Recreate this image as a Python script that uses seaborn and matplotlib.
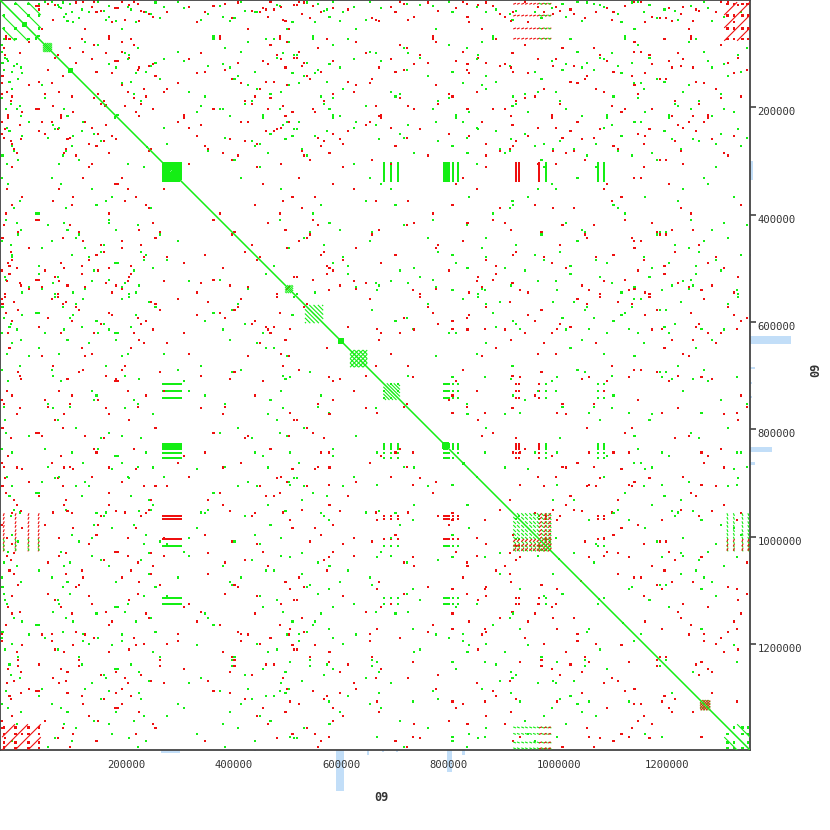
import numpy as np
import pandas as pd
import matplotlib
matplotlib.use("Agg")
import matplotlib.pyplot as plt
import seaborn as sns
from matplotlib.collections import LineCollection

# Self dot plot of sequence "09" (positions in kb, drawn in bp)
GENOME_KB = 1397
tick_vals = [200000, 400000, 600000, 800000, 1000000, 1200000]

# tandem / low complexity blocks on the diagonal: start, end, period (0 = solid), strand
diag_start = [41, 80, 127, 194, 272, 531, 568, 630, 652, 714, 823, 861, 887, 1040, 1081, 1114, 1159, 1304]
diag_end = [50, 97, 136, 199, 276, 546, 602, 641, 684, 745, 836, 866, 891, 1044, 1085, 1118, 1163, 1323]
diag_period = [0, 3.5, 0, 0, 0, 4, 8, 0, 8, 6.5, 0, 0, 0, 0, 0, 0, 0, 5]
diag_strand = ["+", "+", "+", "-", "+", "+", "+", "+", "x", "+", "+", "+", "+", "+", "-", "+", "+", "-"]

# family A: tandem array at ~300 kb and its copies
famA_kb = [302, 305, 308, 311, 314, 317, 320, 323, 326, 329, 332, 335,
           714, 727, 740, 825, 828, 831, 834, 842, 851, 959, 965, 1002, 1015, 1112, 1124]
famA_len = [3] * 27
famA_str = "++++++++++++" + "+++++++++-" + "--++" + "+"

# family B: inverted repeats at both ends of the sequence
famB_kb = [4, 28, 52, 1349, 1373]
famB_len = [24, 24, 24, 24, 24]
famB_str = "+++--"

# family C: tandem block at ~960-1025 kb with short copies near the ends
famC_kb = [956, 963, 971, 978, 986, 993, 1000, 1008, 1015, 1022, 1004, 1013, 1021,
           6, 28, 52, 71, 1354, 1366, 1382, 1393]
famC_len = [5] * 13 + [2] * 8
famC_str = "++++++++++---" + "----" + "++++"

# dispersed small repeats: copy positions (kb) and strands
rep1_kb = [11, 67, 71, 203, 397, 409, 521, 583, 806, 918, 1163, 1287]
rep1_str = "+--+-++-+--+"
rep2_kb = [19, 815, 188, 193, 262, 455, 468, 602, 961, 1043, 1256, 1301]
rep2_str = "-++-+-+--+-+"
rep3_kb = [8, 101, 107, 239, 515, 547, 552, 781, 889, 1117, 1209, 1374]
rep3_str = "+-+-+--+-++-"
rep4_kb = [33, 1240, 146, 298, 431, 436, 577, 692, 1008, 1089, 1223, 1229]
rep4_str = "-+--+-++-+-+"
rep5_kb = [2, 83, 175, 182, 249, 503, 619, 744, 835, 977, 1188, 1342]
rep5_str = "++-+--+-+-+-"
rep6_kb = [26, 1030, 122, 276, 281, 387, 562, 931, 949, 1069, 1150, 1268]
rep6_str = "-+-+--++-+-+"
rep7_kb = [14, 620, 113, 213, 218, 342, 489, 709, 848, 1027, 1130, 1246, 1318]
rep7_str = "+-+--+-+-+--+"
rep8_kb = [53, 77, 157, 227, 461, 534, 538, 663, 812, 897, 1181, 1282]
rep8_str = "-++-+-+--+-+"
rep9_kb = [6, 88, 130, 256, 419, 592, 751, 757, 869, 1047, 1105, 1390]
rep9_str = "+-+--+-+-++-"
rep10_kb = [22, 1110, 165, 268, 311, 478, 484, 638, 905, 1013, 1199, 1333]
rep10_str = "-+-++-+--+-+"
rep11_kb = [36, 760, 98, 197, 232, 373, 527, 681, 699, 954, 1139, 1262]
rep11_str = "+--+-+-+-+-+"
rep12_kb = [4, 905, 117, 141, 289, 443, 565, 571, 797, 1093, 1176, 1355]
rep12_str = "-+-+-++-+--+"
rep13_kb = [17, 72, 152, 244, 494, 509, 609, 647, 923, 1062, 1237, 1296]
rep13_str = "+-++--+-+-+-"
rep14_kb = [41, 1200, 136, 208, 253, 366, 544, 586, 873, 983, 1157, 1367]
rep14_str = "-+-+-+--++-+"
rep15_kb = [540, 612, 701, 768, 842, 903, 968, 1037, 1096, 1171, 1233, 1306, 1372]
rep15_str = "+-+-++-+--+-+"
rep16_kb = [13, 1035, 109, 171, 237, 304, 352, 523, 658, 727, 888, 1001, 1125, 1271]
rep16_str = "+-+-++--+-+-+-"
rep17_kb = [31, 870, 119, 202, 285, 414, 499, 613, 771, 940, 1054, 1214, 1348]
rep17_str = "-+--+-+-++-+-"
rep18_kb = [3, 1180, 96, 154, 226, 331, 448, 556, 688, 862, 1075, 1193, 1310]
rep18_str = "+-+--++-+-+-+"
rep19_kb = [21, 955, 133, 179, 271, 381, 475, 597, 736, 842, 996, 1142, 1379]
rep19_str = "-+-+-+-++--+-"
rep20_kb = [38, 1290, 125, 216, 258, 427, 531, 632, 705, 951, 1083, 1251, 1325]
rep20_str = "+-++-+-+--+-+"

# repeat density strips (bottom and right)
hist_start = [300, 473, 626, 684, 712, 738, 833, 860]
hist_end = [335, 476, 640, 688, 716, 742, 841, 866]
hist_height = [3, 1, 41, 5, 2, 2, 22, 5]

GREEN = "#14ee14"
RED = "#ee1010"
BLUE = "#c2def8"

dots = []
segs = []


def add_family(pos, lens, strands):
    for i in range(len(pos)):
        for j in range(len(pos)):
            if i == j:
                continue
            col = GREEN if strands[i] == strands[j] else RED
            if lens[i] <= 3 and lens[j] <= 3:
                dots.append((pos[i] + lens[i] / 2, pos[j] + lens[j] / 2, col))
            elif strands[i] == strands[j]:
                segs.append(((pos[i], pos[j]), (pos[i] + lens[i], pos[j] + lens[j]), col))
            else:
                segs.append(((pos[i], pos[j] + lens[j]), (pos[i] + lens[i], pos[j]), col))


add_family(famA_kb, famA_len, famA_str)
add_family(famB_kb, famB_len, famB_str)
add_family(famC_kb, famC_len, famC_str)
reps = [(rep1_kb, rep1_str), (rep2_kb, rep2_str), (rep3_kb, rep3_str), (rep4_kb, rep4_str),
        (rep5_kb, rep5_str), (rep6_kb, rep6_str), (rep7_kb, rep7_str), (rep8_kb, rep8_str),
        (rep9_kb, rep9_str), (rep10_kb, rep10_str), (rep11_kb, rep11_str), (rep12_kb, rep12_str),
        (rep13_kb, rep13_str), (rep14_kb, rep14_str), (rep15_kb, rep15_str), (rep16_kb, rep16_str),
        (rep17_kb, rep17_str), (rep18_kb, rep18_str), (rep19_kb, rep19_str), (rep20_kb, rep20_str)]
for kb, st in reps:
    add_family(kb, [1.5] * len(kb), st)

# hatching inside diagonal blocks
squares = []
for s, e, p, st in zip(diag_start, diag_end, diag_period, diag_strand):
    if p == 0:
        squares.append((s, e, GREEN if st == "+" else RED))
        continue
    off = p
    while off < e - s:
        segs.append(((s + off, s), (e, e - off), GREEN))
        segs.append(((s, s + off), (e - off, e), GREEN))
        off += p
    if st in "-x":
        col = RED if st == "-" else GREEN
        c = 2 * s + p
        while c < 2 * e:
            if c <= s + e:
                segs.append(((s, c - s), (c - s, s), col))
            else:
                segs.append(((c - e, e), (e, c - e), col))
            c += p

dot_df = pd.DataFrame(dots, columns=["x", "y", "col"])
dot_df["x"] *= 1000
dot_df["y"] *= 1000

sns.set_style("white")
plt.rcParams["font.family"] = ["DejaVu Sans Mono", "DejaVu Sans"]

fig = plt.figure(figsize=(8.3, 8.3), dpi=100)
W, H = 830.0, 830.0
ax = fig.add_axes([0, 80 / H, 750 / W, 750 / H], zorder=3)
ax_b = fig.add_axes([0, 30 / H, 750 / W, 50 / H], zorder=1)
ax_r = fig.add_axes([750 / W, 80 / H, 50 / W, 750 / H], zorder=1)

G = GENOME_KB * 1000

sns.scatterplot(data=dot_df, x="x", y="y", hue="col", palette={GREEN: GREEN, RED: RED},
                marker="s", s=2.4, linewidth=0, legend=False, ax=ax, zorder=2)

for s, e, col in squares:
    ax.fill_between([s * 1000, e * 1000], s * 1000, e * 1000, color=col, lw=0, zorder=3)

lines = [[(a[0] * 1000, a[1] * 1000), (b[0] * 1000, b[1] * 1000)] for a, b, c in segs]
cols = [c for a, b, c in segs]
ax.add_collection(LineCollection(lines, colors=cols, linewidths=0.8, zorder=3))
ax.plot([0, G], [0, G], color=GREEN, lw=1.1, zorder=4)

ax.set_xlim(0, G)
ax.set_ylim(G, 0)
ax.set_xlabel("")
ax.set_ylabel("")
for sp in ax.spines.values():
    sp.set_color("#444444")
    sp.set_linewidth(1.3)
ax.set_xticks(tick_vals)
ax.set_yticks(tick_vals)
ax.set_xticklabels([str(t) for t in tick_vals])
ax.set_yticklabels([str(t) for t in tick_vals])
ax.yaxis.tick_right()
ax.tick_params(axis="both", direction="out", length=4, width=1.2, color="#444444",
               labelsize=7.6, labelcolor="#333333")
ax.tick_params(axis="x", pad=3)
ax.tick_params(axis="y", pad=1.5)
plt.setp(ax.get_xticklabels(), ha="left")
plt.setp(ax.get_yticklabels(), va="top")

# repeat density strips
widths = [(e - s) * 1000 for s, e in zip(hist_start, hist_end)]
lefts = [s * 1000 for s in hist_start]
ax_b.bar(lefts, hist_height, width=widths, align="edge", color=BLUE, lw=0)
ax_b.set_xlim(0, G)
ax_b.set_ylim(50, 0)
ax_b.axis("off")
ax_r.barh(lefts, hist_height, height=widths, align="edge", color=BLUE, lw=0)
ax_r.set_ylim(G, 0)
ax_r.set_xlim(0, 50)
ax_r.axis("off")

fig.text(381 / W, 1 - 797 / H, "09", ha="center", va="center", fontsize=8.5,
         fontweight="bold", color="#333333")
fig.text(816 / W, 1 - 370 / H, "09", ha="center", va="center", rotation=90, fontsize=8.5,
         fontweight="bold", color="#333333")

fig.savefig("out.png", dpi=100, facecolor="white")
